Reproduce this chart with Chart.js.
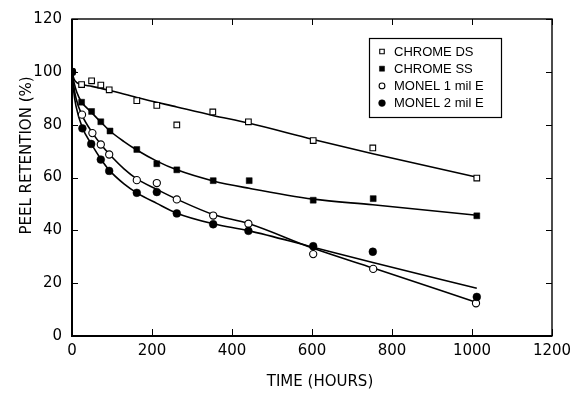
<!DOCTYPE html>
<html><head><meta charset="utf-8">
<script src="https://cdn.jsdelivr.net/npm/chart.js@4.4.0/dist/chart.umd.min.js"></script>
<style>html,body{margin:0;padding:0;background:#fff}#wrap{width:581px;height:397px}</style>
</head><body><div id="wrap"><canvas id="c" width="581" height="397"></canvas></div>
<script>
const seriesNames = ['CHROME DS', 'CHROME SS', 'MONEL 1 mil E', 'MONEL 2 mil E'];
const xTitle = 'TIME (HOURS)';
const yTitle = 'PEEL RETENTION (%)';
const xTicks = [0, 200, 400, 600, 800, 1000, 1200];
const yTicks = [0, 20, 40, 60, 80, 100, 120];

// measured points
const chromeDsHours  = [0, 24, 49, 72, 93, 162, 212, 262, 352, 441, 603, 752, 1012];
const chromeDsValues = [100, 95.2, 96.6, 95.0, 93.2, 89.1, 87.3, 79.9, 84.8, 81.1, 74.0, 71.2, 59.8];
const chromeSsHours  = [0, 24, 49, 72, 95, 162, 212, 262, 353, 443, 603, 753, 1012];
const chromeSsValues = [100, 88.5, 85.0, 81.1, 77.6, 70.6, 65.2, 62.9, 58.8, 58.8, 51.4, 52.0, 45.5];
const monel1Hours    = [0, 25, 51, 72, 93, 162, 212, 262, 353, 441, 603, 753, 1010];
const monel1Values   = [100, 83.8, 76.8, 72.5, 68.7, 59.0, 57.9, 51.7, 45.6, 42.5, 31.0, 25.4, 12.4];
const monel2Hours    = [0, 26, 48, 72, 93, 162, 212, 262, 353, 441, 603, 752, 1012];
const monel2Values   = [100, 78.6, 72.7, 66.8, 62.5, 54.2, 54.5, 46.4, 42.3, 39.8, 34.0, 31.9, 14.8];

// fitted curves
const chromeDsCurveHours  = [0, 5, 12, 24, 50, 93, 162, 262, 352, 441, 603, 752, 1010];
const chromeDsCurveValues = [100, 97.3, 95.9, 95.2, 94.5, 93.0, 90.3, 86.7, 83.5, 80.6, 74.4, 69.0, 60.2];
const chromeSsCurveHours  = [0, 5, 12, 24, 49, 72, 95, 130, 162, 212, 262, 353, 443, 603, 752, 1012];
const chromeSsCurveValues = [100, 96.0, 92.3, 88.6, 84.6, 81.0, 77.6, 73.6, 70.4, 66.2, 62.9, 58.7, 55.9, 51.8, 49.7, 45.7];
const monel1CurveHours    = [0, 4, 10, 25, 51, 72, 93, 130, 162, 212, 262, 353, 441, 603, 753, 1010];
const monel1CurveValues   = [100, 95.0, 90.0, 83.6, 76.9, 72.6, 68.9, 63.3, 59.5, 55.5, 51.8, 46.0, 42.6, 33.2, 25.7, 12.8];
const monel2CurveHours    = [0, 4, 10, 26, 48, 72, 93, 130, 162, 212, 262, 353, 441, 603, 752, 1012];
const monel2CurveValues   = [100, 93.0, 87.0, 78.8, 72.8, 67.0, 62.8, 57.6, 54.2, 50.2, 46.5, 42.5, 39.9, 33.6, 27.8, 18.1];

const pts = (xs, ys) => xs.map((x, i) => ({x, y: ys[i]}));

const markerStyles = [
  {pointStyle: 'rect', radius: 4.0, fill: '#fff', border: 1.1, legendRadius: 3.2},
  {pointStyle: 'rect', radius: 4.2, fill: '#000', border: 0.5, legendRadius: 3.6},
  {pointStyle: 'circle', radius: 3.6, fill: '#fff', border: 1.1, legendRadius: 2.9},
  {pointStyle: 'circle', radius: 3.9, fill: '#000', border: 0.5, legendRadius: 3.4}
];
const markerData = [
  pts(chromeDsHours, chromeDsValues), pts(chromeSsHours, chromeSsValues),
  pts(monel1Hours, monel1Values), pts(monel2Hours, monel2Values)
];
const curveData = [
  pts(chromeDsCurveHours, chromeDsCurveValues), pts(chromeSsCurveHours, chromeSsCurveValues),
  pts(monel1CurveHours, monel1CurveValues), pts(monel2CurveHours, monel2CurveValues)
];

const datasets = [];
curveData.forEach((d, i) => datasets.push({
  label: seriesNames[i] + ' fit', data: d, showLine: true, borderColor: '#000',
  borderWidth: 1.6, pointRadius: 0, cubicInterpolationMode: 'monotone', order: 10
}));
markerData.forEach((d, i) => {
  const m = markerStyles[i];
  datasets.push({
    label: seriesNames[i], data: d, showLine: false, pointStyle: m.pointStyle,
    pointRadius: m.radius, pointBackgroundColor: m.fill, pointBorderColor: '#000',
    pointBorderWidth: m.border, order: 4 - i
  });
});

const TICK_FONT = '15px "DejaVu Sans"';

const framePlugin = {
  id: 'frame',
  beforeDatasetsDraw(chart) {
    const {ctx, chartArea: a, scales: {x, y}} = chart;
    ctx.save();
    ctx.strokeStyle = '#000';
    ctx.lineWidth = 1.4;
    ctx.strokeRect(a.left, a.top, a.right - a.left, a.bottom - a.top);
    ctx.lineWidth = 2;
    ctx.beginPath();
    ctx.moveTo(a.left, a.top); ctx.lineTo(a.left, a.bottom); ctx.lineTo(a.right, a.bottom);
    ctx.stroke();
    ctx.lineWidth = 1;
    ctx.beginPath();
    yTicks.forEach(v => {
      const py = Math.round(y.getPixelForValue(v)) + 0.5;
      ctx.moveTo(a.left, py); ctx.lineTo(a.left + 6, py);
      ctx.moveTo(a.right - 6, py); ctx.lineTo(a.right, py);
    });
    xTicks.forEach(v => {
      const px = Math.round(x.getPixelForValue(v)) + 0.5;
      ctx.moveTo(px, a.bottom); ctx.lineTo(px, a.bottom - 7);
      ctx.moveTo(px, a.top); ctx.lineTo(px, a.top + 6);
    });
    ctx.stroke();
    ctx.restore();
  },
  afterDraw(chart) {
    const {ctx, chartArea: a} = chart;
    ctx.save();
    ctx.fillStyle = '#000';
    ctx.font = TICK_FONT;
    ctx.textAlign = 'center';
    ctx.textBaseline = 'middle';
    ctx.fillText(xTitle, (a.left + a.right) / 2 + 8, 382.5);
    ctx.translate(27, (a.top + a.bottom) / 2 - 22);
    ctx.rotate(-Math.PI / 2);
    ctx.fillText(yTitle, 0, 0);
    ctx.restore();

    // legend
    ctx.save();
    const bx = a.right - 183, by = a.top + 19, bw = 132, bh = 79;
    ctx.strokeStyle = '#000';
    ctx.lineWidth = 1.2;
    ctx.strokeRect(bx + 0.5, by + 0.5, bw, bh);
    ctx.font = '13px "Liberation Sans"';
    ctx.textAlign = 'left';
    ctx.textBaseline = 'middle';
    seriesNames.forEach((name, i) => {
      const m = markerStyles[i];
      const cy = by + 13.5 + i * 17.2;
      ctx.fillStyle = m.fill;
      ctx.strokeStyle = '#000';
      ctx.lineWidth = m.border;
      Chart.helpers.drawPoint(ctx, {pointStyle: m.pointStyle, radius: m.legendRadius, rotation: 0, borderWidth: m.border}, bx + 13, cy);
      ctx.fillStyle = '#000';
      ctx.fillText(name, bx + 25, cy + 0.5);
    });
    ctx.restore();
  }
};

new Chart(document.getElementById('c'), {
  type: 'scatter',
  data: {datasets},
  options: {
    responsive: false,
    animation: false,
    devicePixelRatio: 1,
    layout: {padding: {left: 0, right: 29, top: 14, bottom: 0}},
    plugins: {legend: {display: false}, tooltip: {enabled: false}},
    scales: {
      x: {
        type: 'linear', min: 0, max: 1200,
        afterBuildTicks: s => { s.ticks = xTicks.map(v => ({value: v})); },
        afterFit: s => { s.height = 61; },
        grid: {display: false, drawTicks: false},
        border: {display: false},
        ticks: {font: {family: 'DejaVu Sans', size: 15}, color: '#000', padding: 6, maxRotation: 0, autoSkip: false,
                callback: v => String(v)}
      },
      y: {
        type: 'linear', min: 0, max: 120,
        afterBuildTicks: s => { s.ticks = yTicks.map(v => ({value: v})); },
        afterFit: s => { s.width = 72; },
        grid: {display: false, drawTicks: false},
        border: {display: false},
        ticks: {font: {family: 'DejaVu Sans', size: 15}, color: '#000', padding: 10, callback: v => String(v)}
      }
    }
  },
  plugins: [framePlugin]
});
</script></body></html>
